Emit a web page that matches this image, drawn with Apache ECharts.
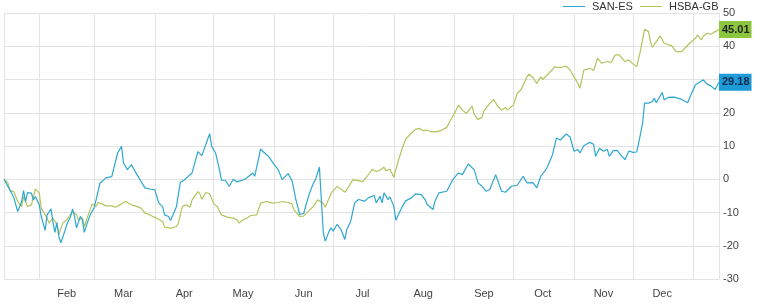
<!DOCTYPE html>
<html>
<head>
<meta charset="utf-8">
<script src="https://cdn.jsdelivr.net/npm/echarts@6/dist/echarts.min.js"></script>
<style>
html,body{margin:0;padding:0;background:#fff;}
#chart{width:761px;height:308px;}
</style>
</head>
<body>
<div id="chart"></div>
<script>
// ---- DATA ----
var seriesNames = ['SAN-ES', 'HSBA-GB'];
var rangeStart = '2019-01-14';
var rangeEnd = '2020-01-14';
var monthStarts = ['2019-01-14','2019-02-01','2019-03-01','2019-04-01','2019-05-01','2019-06-01','2019-07-01','2019-08-01','2019-09-01','2019-10-01','2019-11-01','2019-12-01','2020-01-01','2020-01-14'];
var labelDates = ['2019-02-15','2019-03-16','2019-04-16','2019-05-16','2019-06-16','2019-07-16','2019-08-16','2019-09-16','2019-10-16','2019-11-16','2019-12-16'];
var monthLabels = ['Feb','Mar','Apr','May','Jun','Jul','Aug','Sep','Oct','Nov','Dec'];
var yTicks = [-30,-20,-10,0,10,20,30,40,50];

var sanDates = ['2019-01-14','2019-01-17','2019-01-19','2019-01-21','2019-01-23','2019-01-24','2019-01-25','2019-01-26','2019-01-28','2019-01-29','2019-01-30',
'2019-02-01','2019-02-02','2019-02-04','2019-02-05','2019-02-07','2019-02-08','2019-02-09','2019-02-10','2019-02-11','2019-02-12','2019-02-14','2019-02-15','2019-02-17','2019-02-18','2019-02-19','2019-02-20','2019-02-22','2019-02-23','2019-02-24','2019-02-25','2019-02-27',
'2019-03-01','2019-03-02','2019-03-04','2019-03-05','2019-03-07','2019-03-08','2019-03-10','2019-03-11','2019-03-13','2019-03-15','2019-03-16','2019-03-18','2019-03-20','2019-03-22','2019-03-25','2019-03-27','2019-03-30',
'2019-04-01','2019-04-03','2019-04-05','2019-04-06','2019-04-08','2019-04-09','2019-04-11','2019-04-12','2019-04-14','2019-04-16','2019-04-17','2019-04-20','2019-04-23','2019-04-24','2019-04-25','2019-04-27','2019-04-29','2019-04-30',
'2019-05-02','2019-05-04','2019-05-05','2019-05-07','2019-05-09','2019-05-11','2019-05-13','2019-05-14','2019-05-17','2019-05-19','2019-05-21','2019-05-22','2019-05-23','2019-05-25','2019-05-27','2019-05-29',
'2019-06-01','2019-06-03','2019-06-05','2019-06-08','2019-06-10','2019-06-11','2019-06-12','2019-06-14','2019-06-16','2019-06-17','2019-06-19','2019-06-21','2019-06-22','2019-06-24','2019-06-25','2019-06-26','2019-06-27','2019-06-29','2019-06-30',
'2019-07-01','2019-07-03','2019-07-05','2019-07-07','2019-07-08','2019-07-10','2019-07-12','2019-07-14','2019-07-17','2019-07-19','2019-07-22','2019-07-23','2019-07-25','2019-07-26','2019-07-27','2019-07-29','2019-07-30',
'2019-08-01','2019-08-02','2019-08-03','2019-08-05','2019-08-07','2019-08-10','2019-08-12','2019-08-15','2019-08-17','2019-08-18','2019-08-19','2019-08-21','2019-08-22','2019-08-24','2019-08-28','2019-08-31',
'2019-09-03','2019-09-05','2019-09-08','2019-09-11','2019-09-13','2019-09-15','2019-09-17','2019-09-19','2019-09-22','2019-09-25','2019-09-27','2019-09-30',
'2019-10-03','2019-10-06','2019-10-08','2019-10-11','2019-10-13','2019-10-15','2019-10-18','2019-10-21','2019-10-23','2019-10-25','2019-10-28','2019-10-30',
'2019-11-01','2019-11-03','2019-11-04','2019-11-06','2019-11-09','2019-11-11','2019-11-12','2019-11-14','2019-11-16','2019-11-18','2019-11-19','2019-11-21','2019-11-23','2019-11-25','2019-11-27','2019-11-29',
'2019-12-01','2019-12-03','2019-12-04','2019-12-06','2019-12-07','2019-12-09','2019-12-11','2019-12-12','2019-12-13','2019-12-16','2019-12-17','2019-12-19','2019-12-22','2019-12-26','2019-12-29','2019-12-31',
'2020-01-02','2020-01-03','2020-01-06','2020-01-08','2020-01-10','2020-01-12','2020-01-14'];
var sanValues = [0,-3.2,-5.5,-9.7,-6.7,-3.4,-6.7,-4,-4.2,-6.2,-5.2,
-7.7,-11.2,-15.4,-10.7,-8.9,-13,-16,-13,-17.2,-19.1,-15.7,-13.7,-11.2,-8.9,-11.2,-14.6,-11.2,-12.2,-16,-14,-10.7,
-8.6,-6.2,-1.2,-0.7,0.4,0.2,0.8,0.6,7.9,9.9,4.9,2.9,4.4,2.3,-0.7,-2.6,-3,
-3.2,-7.1,-8.3,-10.7,-11.2,-12.4,-9.7,-8.3,-1,-0.2,-0.7,1.9,8.3,8.9,7.1,10.4,13.7,9.9,
7.9,2.9,-0.3,-0.3,-2.1,0,-0.8,-0.3,0,0.9,1.9,0.9,0.4,9.1,7.9,6.9,
4.4,2.9,-0.1,1.7,-0.4,-3.1,-6.1,-10.6,-10.3,-8.1,-4.1,-1.1,-0.1,3.7,-6.1,-16.1,-18.6,-15.6,-14.6,
-15.6,-13.6,-15.1,-18.1,-15.1,-12.6,-7.1,-6.1,-6.6,-5.6,-4.9,-7.1,-5.1,-7.1,-4.1,-6.1,-5.3,
-8.1,-12.3,-12.9,-8.6,-6.5,-5.6,-4.4,-4.6,-6.1,-7.6,-8.1,-9.1,-6.6,-4.1,-3.6,-0.2,
1.9,1.4,4.6,2.9,-1.1,-2.1,-3.6,-3.1,1.4,-3.6,-3.9,-2.1,
-1.8,0.9,-1.1,-1,-2.6,0.9,3.2,7.4,12.4,11.8,13.6,12.7,
8.4,8.9,7.9,10.1,11.1,10.5,6.9,9.3,8.4,9,6.9,8.6,8.7,7.2,5.9,8.5,
8.1,8.2,10.9,16.9,22.9,22.9,23.4,24.4,23,26.1,23.9,24.6,24.7,24,23,25.9,
28.4,28.9,29.9,28.6,28,27,29.18];

var hsbaDates = ['2019-01-14','2019-01-16','2019-01-17','2019-01-19','2019-01-21','2019-01-23','2019-01-24','2019-01-26','2019-01-28','2019-01-29','2019-01-30',
'2019-02-01','2019-02-02','2019-02-05','2019-02-06','2019-02-08','2019-02-10','2019-02-11','2019-02-13','2019-02-15','2019-02-16','2019-02-18','2019-02-20','2019-02-21','2019-02-23','2019-02-24','2019-02-26','2019-02-28',
'2019-03-02','2019-03-03','2019-03-05','2019-03-07','2019-03-10','2019-03-12','2019-03-15','2019-03-17','2019-03-20','2019-03-22','2019-03-25','2019-03-27','2019-03-29','2019-03-31',
'2019-04-02','2019-04-05','2019-04-06','2019-04-09','2019-04-12','2019-04-13','2019-04-15','2019-04-17','2019-04-19','2019-04-20','2019-04-23','2019-04-24','2019-04-25','2019-04-27','2019-04-29',
'2019-05-01','2019-05-03','2019-05-05','2019-05-08','2019-05-11','2019-05-13','2019-05-14','2019-05-16','2019-05-18','2019-05-20','2019-05-23','2019-05-25','2019-05-28','2019-05-31',
'2019-06-03','2019-06-05','2019-06-08','2019-06-10','2019-06-11','2019-06-14','2019-06-16','2019-06-19','2019-06-21','2019-06-23','2019-06-24','2019-06-26','2019-06-27','2019-06-30',
'2019-07-03','2019-07-05','2019-07-07','2019-07-09','2019-07-11','2019-07-14','2019-07-16','2019-07-18','2019-07-21','2019-07-23','2019-07-25','2019-07-27','2019-07-28','2019-07-30',
'2019-08-01','2019-08-03','2019-08-05','2019-08-07','2019-08-09','2019-08-12','2019-08-14','2019-08-16','2019-08-18','2019-08-20','2019-08-23','2019-08-25','2019-08-28','2019-08-30',
'2019-09-01','2019-09-03','2019-09-05','2019-09-07','2019-09-10','2019-09-11','2019-09-13','2019-09-15','2019-09-16','2019-09-17','2019-09-19','2019-09-21','2019-09-23','2019-09-25','2019-09-27','2019-09-28',
'2019-10-01','2019-10-03','2019-10-05','2019-10-08','2019-10-09','2019-10-11','2019-10-13','2019-10-15','2019-10-16','2019-10-19','2019-10-21','2019-10-22','2019-10-25','2019-10-28','2019-10-30',
'2019-11-01','2019-11-03','2019-11-04','2019-11-06','2019-11-07','2019-11-09','2019-11-11','2019-11-13','2019-11-15','2019-11-18','2019-11-20','2019-11-22','2019-11-24','2019-11-27','2019-11-29',
'2019-12-01','2019-12-03','2019-12-05','2019-12-07','2019-12-09','2019-12-10','2019-12-11','2019-12-13','2019-12-15','2019-12-17','2019-12-18','2019-12-21','2019-12-23','2019-12-26','2019-12-28','2019-12-30',
'2020-01-02','2020-01-03','2020-01-05','2020-01-06','2020-01-08','2020-01-10','2020-01-12','2020-01-14'];
var hsbaValues = [0,-1.1,-3.4,-3.7,-6.7,-8.2,-5.2,-8.2,-7.7,-7.2,-2.9,
-4.1,-8.7,-11.7,-13.2,-11.7,-13.7,-16.7,-13.2,-12.2,-11.4,-9.7,-10.7,-12.2,-11.7,-14.2,-10.7,-7.4,
-8.2,-7,-7.4,-8,-8,-8.4,-7.4,-6.7,-7.7,-8,-8.7,-10.2,-10.6,-11.2,
-11.7,-12.7,-14.4,-14.7,-14.2,-13.2,-8.2,-7.7,-8.4,-6.2,-3.7,-4.4,-6,-4,-4.4,
-7.2,-8.4,-10.7,-11.4,-11.7,-12.2,-13.2,-12.2,-11.7,-10.9,-10.7,-7.2,-6.7,-7.2,
-7,-6.7,-7,-7.4,-9.2,-11.2,-11.1,-9.2,-8.2,-6.2,-5.7,-7.2,-8.4,-4.2,
-2.2,-2.9,-3.9,-2.2,-0.2,-0.4,-0.7,0.6,3,2.3,2.8,3.6,2.6,3,
0.6,5,8.8,12,13.3,15,15.3,14.6,14.8,14.3,14.3,14.6,15.6,17.8,
19.8,22.3,20.8,19.8,22,19.6,18,18.6,20.6,20,22.8,24,22,20.8,21.6,20.8,
22.3,25.8,27,30.8,31.6,30.6,28.8,30.8,30,31.8,33,33.8,33.6,34,32.8,
30.8,28.8,27.4,32.8,32.9,33.4,32.7,36.4,34.9,35.4,35.1,37.4,37.4,35.4,35.9,
34.7,33.9,38.9,45.1,44.4,41.4,39.7,41.4,43.1,40.9,40.4,40.1,38.4,38.4,39.7,40.9,
42.4,43.4,41.9,43.1,43.9,43.6,44.4,45.01];

// ---- CHART ----
function ts(d) { return Date.parse(d + 'T00:00:00Z'); }
function pairs(dates, values) {
  return dates.map(function (d, i) { return [ts(d), values[i]]; });
}
var labelTimes = labelDates.map(ts);
var chart = echarts.init(document.getElementById('chart'), null, { renderer: 'canvas' });
var gridColor = '#e3e3e3';
var font = 'Arial, "Liberation Sans", sans-serif';
chart.setOption({
  animation: false,
  textStyle: { fontFamily: font },
  legend: {
    left: 563, top: 1, padding: 0,
    icon: 'rect',
    itemWidth: 22, itemHeight: 1, itemGap: 7,
    textStyle: { fontSize: 11, color: '#333', fontFamily: font, padding: [0, 0, 0, 2] },
    data: seriesNames
  },
  grid: { left: 4, right: 42, top: 13, bottom: 29, containLabel: false },
  xAxis: {
    type: 'value',
    min: ts(rangeStart), max: ts(rangeEnd),
    axisLine: { show: true, lineStyle: { color: gridColor } },
    axisTick: { show: true, length: 4, lineStyle: { color: gridColor }, customValues: monthStarts.map(ts) },
    splitLine: { show: true, lineStyle: { color: gridColor, width: 1 } },
    axisLabel: {
      customValues: labelTimes,
      color: '#444', fontSize: 11, margin: 9, fontFamily: font,
      formatter: function (v) {
        var i = labelTimes.indexOf(v);
        return i >= 0 ? monthLabels[i] : '';
      }
    }
  },
  yAxis: {
    type: 'value', position: 'right',
    min: yTicks[0], max: yTicks[yTicks.length - 1], interval: 10,
    axisLine: { show: true, lineStyle: { color: gridColor } },
    axisTick: { show: false },
    splitLine: { show: true, lineStyle: { color: gridColor } },
    axisLabel: { color: '#444', fontSize: 11, margin: 4, fontFamily: font }
  },
  series: [
    {
      name: seriesNames[0], type: 'line', symbol: 'none', showSymbol: false,
      data: pairs(sanDates, sanValues),
      lineStyle: { color: '#2ea7d0', width: 1.2 },
      itemStyle: { color: '#2ea7d0' },
      endLabel: {
        show: true, distance: 0,
        formatter: function (p) { return p.value[1].toFixed(2); },
        backgroundColor: '#1d9ad8', color: '#0e2a4a',
        fontSize: 11, fontWeight: 'bold', padding: [3, 2, 3, 3], fontFamily: font
      },
      z: 3
    },
    {
      name: seriesNames[1], type: 'line', symbol: 'none', showSymbol: false,
      data: pairs(hsbaDates, hsbaValues),
      lineStyle: { color: '#b3c45e', width: 1.2 },
      itemStyle: { color: '#b3c45e' },
      endLabel: {
        show: true, distance: 0,
        formatter: function (p) { return p.value[1].toFixed(2); },
        backgroundColor: '#8cc63f', color: '#222',
        fontSize: 11, fontWeight: 'bold', padding: [3, 2, 3, 3], fontFamily: font
      },
      z: 2
    }
  ]
});
</script>
</body>
</html>
